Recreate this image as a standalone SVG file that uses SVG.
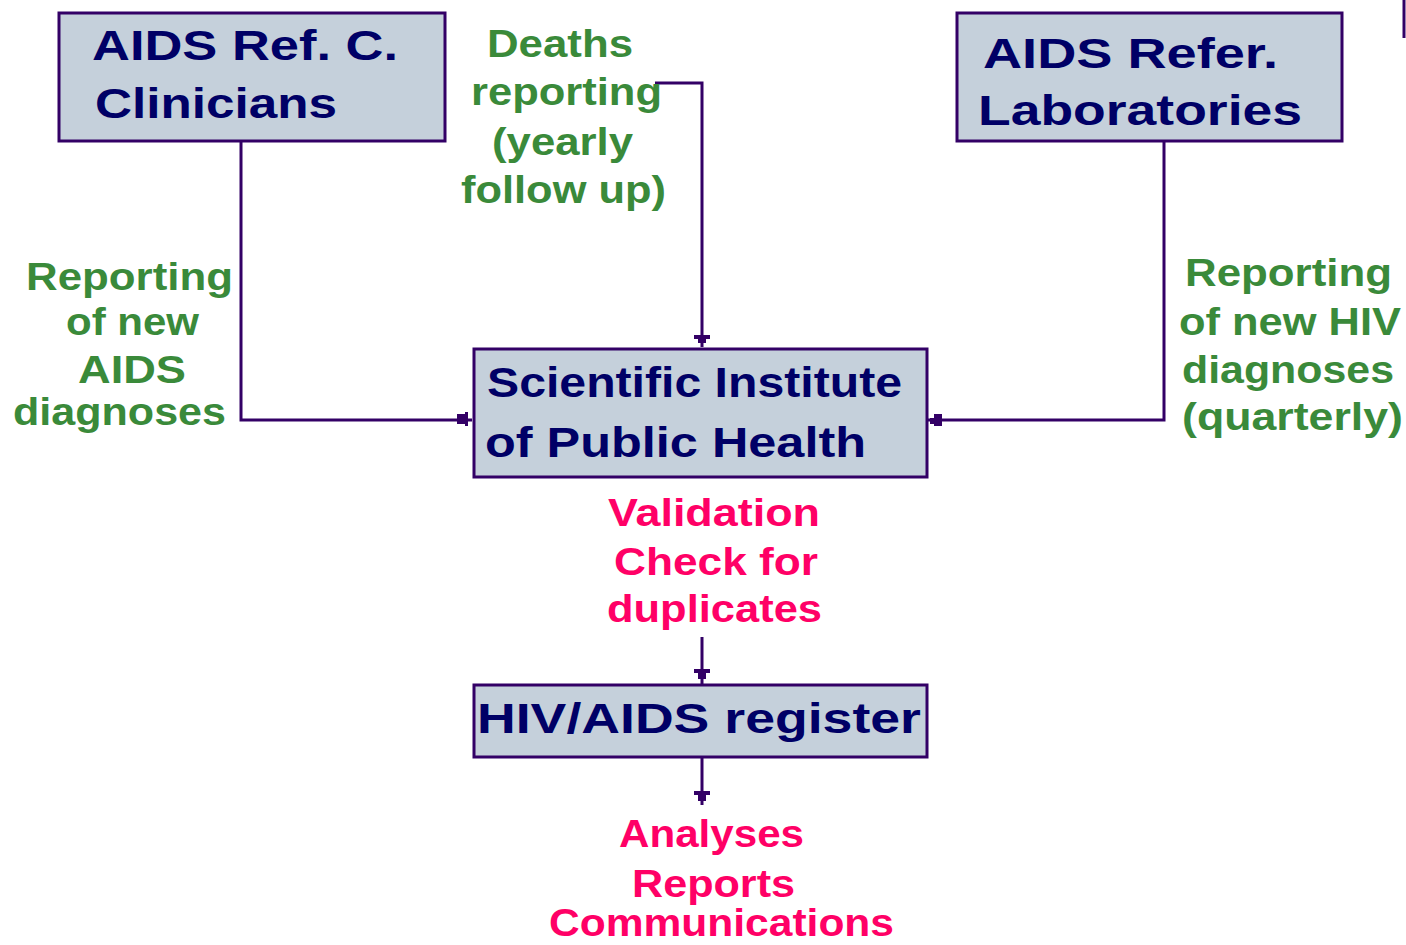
<svg xmlns="http://www.w3.org/2000/svg" width="1406" height="945" viewBox="0 0 1406 945">
<defs>
<style>
.box{fill:#C5D0DB;stroke:#330066;stroke-width:3}
.title{font-family:"Liberation Sans",Arial,sans-serif;font-weight:bold;font-size:42px;fill:#000066}
.g{font-family:"Liberation Sans",Arial,sans-serif;font-weight:bold;font-size:38px;fill:#3A8A3A}
.p{font-family:"Liberation Sans",Arial,sans-serif;font-weight:bold;font-size:38px;fill:#FF0066}
.ln{fill:none;stroke:#330066;stroke-width:3}
</style>
</defs>
<rect width="1406" height="945" fill="#FFFFFF"/>
<g id="connectors">
<path class="ln" d="M241,141 V420 H472"/>
<path d="M457,414 h8 v-2 h3 v14 h-3 v-2 h-8 Z" fill="#330066"/>
<path class="ln" d="M655,83 H702 V347"/>
<path d="M694,335 h16 v4 h-4 v4 h-8 v-4 h-4 Z" fill="#330066"/>
<path class="ln" d="M1164,141 V420 H928"/>
<path d="M934,414 h8 v12 h-8 v-2 h-4 v-6 h4 Z" fill="#330066"/>
<path class="ln" d="M702,637 V684"/>
<path d="M694,669 h16 v4 h-4 v6 h-8 v-6 h-4 Z" fill="#330066"/>
<path class="ln" d="M702,757 V805"/>
<path d="M694,791 h16 v4 h-4 v6 h-8 v-6 h-4 Z" fill="#330066"/>
<path class="ln" d="M1404,0 V38"/>
</g>
<g id="node-clinicians">
<rect class="box" x="59" y="13" width="386" height="128"/>
<text class="title" x="92" y="60" textLength="306" lengthAdjust="spacingAndGlyphs">AIDS Ref. C.</text>
<text class="title" x="95" y="118" textLength="242" lengthAdjust="spacingAndGlyphs">Clinicians</text>
</g>
<g id="node-laboratories">
<rect class="box" x="957" y="13" width="385" height="128"/>
<text class="title" x="983" y="68" textLength="295" lengthAdjust="spacingAndGlyphs">AIDS Refer.</text>
<text class="title" x="978" y="125" textLength="324" lengthAdjust="spacingAndGlyphs">Laboratories</text>
</g>
<g id="node-institute">
<rect class="box" x="474" y="349" width="453" height="128"/>
<text class="title" x="487" y="397" textLength="415" lengthAdjust="spacingAndGlyphs">Scientific Institute</text>
<text class="title" x="485" y="457" textLength="381" lengthAdjust="spacingAndGlyphs">of Public Health</text>
</g>
<g id="node-register">
<rect class="box" x="474" y="685" width="453" height="72"/>
<text class="title" x="477" y="733" textLength="444" lengthAdjust="spacingAndGlyphs">HIV/AIDS register</text>
</g>
<g id="label-deaths">
<text class="g" x="487" y="57" textLength="146" lengthAdjust="spacingAndGlyphs">Deaths</text>
<text class="g" x="471" y="105" textLength="191" lengthAdjust="spacingAndGlyphs">reporting</text>
<text class="g" x="492" y="155" textLength="141" lengthAdjust="spacingAndGlyphs">(yearly</text>
<text class="g" x="461" y="203" textLength="205" lengthAdjust="spacingAndGlyphs">follow up)</text>
</g>
<g id="label-aids">
<text class="g" x="26" y="290" textLength="207" lengthAdjust="spacingAndGlyphs">Reporting</text>
<text class="g" x="66" y="335" textLength="133" lengthAdjust="spacingAndGlyphs">of new</text>
<text class="g" x="78" y="383" textLength="108" lengthAdjust="spacingAndGlyphs">AIDS</text>
<text class="g" x="13" y="425" textLength="213" lengthAdjust="spacingAndGlyphs">diagnoses</text>
</g>
<g id="label-hiv">
<text class="g" x="1185" y="286" textLength="207" lengthAdjust="spacingAndGlyphs">Reporting</text>
<text class="g" x="1179" y="335" textLength="222" lengthAdjust="spacingAndGlyphs">of new HIV</text>
<text class="g" x="1182" y="383" textLength="212" lengthAdjust="spacingAndGlyphs">diagnoses</text>
<text class="g" x="1182" y="430" textLength="221" lengthAdjust="spacingAndGlyphs">(quarterly)</text>
</g>
<g id="label-validation">
<text class="p" x="608" y="526" textLength="212" lengthAdjust="spacingAndGlyphs">Validation</text>
<text class="p" x="614" y="575" textLength="204" lengthAdjust="spacingAndGlyphs">Check for</text>
<text class="p" x="607" y="622" textLength="215" lengthAdjust="spacingAndGlyphs">duplicates</text>
</g>
<g id="label-analyses">
<text class="p" x="619" y="847" textLength="185" lengthAdjust="spacingAndGlyphs">Analyses</text>
<text class="p" x="632" y="897" textLength="163" lengthAdjust="spacingAndGlyphs">Reports</text>
<text class="p" x="549" y="936" font-size="36" textLength="345" lengthAdjust="spacingAndGlyphs">Communications</text>
</g>
</svg>
